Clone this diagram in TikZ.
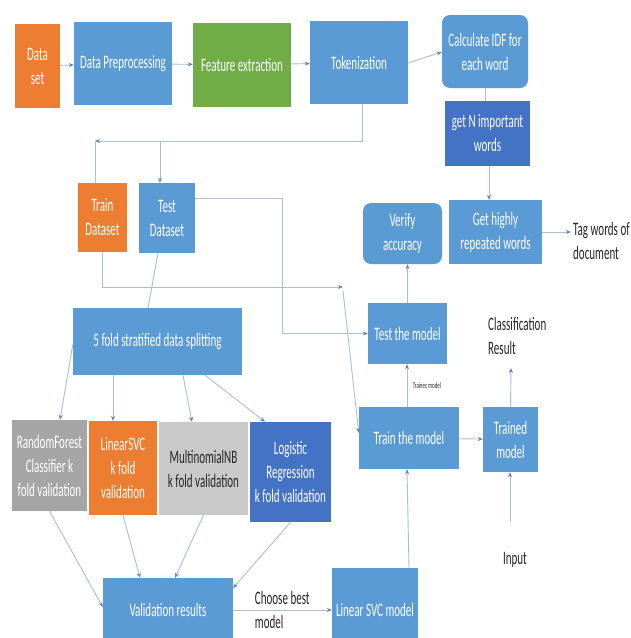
\documentclass[tikz,border=0pt]{standalone}
\usepackage{fontspec}
\setmainfont{Carlito}[FakeStretch=0.58]
\usepackage{color}
\usetikzlibrary{arrows.meta}

\definecolor{boxblue}{HTML}{5B9BD5}
\definecolor{darkblue}{HTML}{4472C4}
\definecolor{boxorange}{HTML}{ED7D31}
\definecolor{boxgreen}{HTML}{70AD47}
\definecolor{boxgray}{HTML}{A5A5A5}
\definecolor{lightgray}{HTML}{C9C9C9}
\definecolor{linegray}{HTML}{AEBED2}
\definecolor{tipblue}{HTML}{5F84B8}
\definecolor{inkblack}{HTML}{262626}

\begin{document}
\begin{tikzpicture}[>=stealth, x=1pt, y=-1pt,
    box/.style={fill=boxblue, text=white, align=center, inner sep=0pt,
        font=\fontsize{19}{24}\selectfont},
    rbox/.style={box, rounded corners=8pt},
    plain/.style={text=inkblack, inner sep=0pt, font=\fontsize{19}{24}\selectfont},
    link/.style={draw=linegray, line width=0.9pt},
    arr/.style={link, -{Stealth[length=5pt, width=4pt, color=tipblue]}}]
    \useasboundingbox (0,0) rectangle (631,638);
    \fill[white] (0,0) rectangle (631,638);

    % top row
    \node[box, fill=boxorange, minimum width=45pt, minimum height=84pt] (dataset) at (37.5,66) {Data\\set};
    \node[box, minimum width=98pt, minimum height=83pt] (prep) at (123,63.5) {Data Preprocessing};
    \node[box, fill=boxgreen, minimum width=98pt, minimum height=84pt] (feat) at (242,65) {Feature extraction};
    \node[box, minimum width=98pt, minimum height=83pt] (token) at (359,62.5) {Tokenization};
    \node[rbox, minimum width=86pt, minimum height=73pt] (idf) at (485,51.5) {Calculate IDF for\\each word};
    \node[box, fill=darkblue, minimum width=85pt, minimum height=65pt] (getn) at (487.5,133.5) {get N important\\words};
    \node[box, minimum width=93pt, minimum height=64pt] (highly) at (495.5,232) {Get highly\\repeated words};
    \node[rbox, minimum width=79pt, minimum height=61pt] (verify) at (402.5,233.5) {Verify\\accuracy};
    \node[plain, anchor=west, align=left] (tag) at (573,241) {Tag words of\\document};

    % data sets
    \node[box, fill=boxorange, minimum width=49pt, minimum height=69pt] (train) at (102.5,217.5) {Train\\Dataset};
    \node[box, minimum width=56pt, minimum height=70pt] (test) at (167,218) {Test\\Dataset};
    \node[box, minimum width=169pt, minimum height=67pt] (fold) at (157.5,341.5) {5 fold stratified data splitting};
    \node[box, minimum width=79pt, minimum height=61pt] (testmodel) at (407.5,333.5) {Test the model};
    \node[plain, anchor=west, align=left] (classres) at (488,336) {Classification\\Result};

    % classifiers
    \node[box, fill=boxgray, minimum width=75pt, minimum height=91pt] (rf) at (49.5,465.5) {RandomForest\\Classifier k\\fold validation};
    \node[box, fill=boxorange, minimum width=68pt, minimum height=94pt] (lsvc) at (123,468) {LinearSVC\\k fold\\validation};
    \node[box, fill=lightgray, text=inkblack, minimum width=89pt, minimum height=93pt] (mnb) at (203.5,468.5) {MultinomialNB\\k fold validation};
    \node[box, fill=darkblue, minimum width=81pt, minimum height=100pt] (logreg) at (290.5,472) {Logistic\\Regression\\k fold validation};

    % bottom
    \node[box, minimum width=130pt, minimum height=64pt] (valid) at (168,610) {Validation results};
    \node[box, minimum width=86pt, minimum height=84pt] (linsvc) at (375,610) {Linear SVC model};
    \node[box, minimum width=100pt, minimum height=62pt] (trainmodel) at (409,438) {Train the model};
    \node[box, minimum width=55pt, minimum height=65pt] (trained) at (510.5,439.5) {Trained\\model};
    \node[plain] (input) at (515,560) {Input};

    \coordinate (split) at (95,141);
    \coordinate (branch) at (160,141);
    \coordinate (testbend) at (282,198);
    \coordinate (trainend) at (343,287);
    \coordinate (inputtop) at (510,522);
    \coordinate (classbot) at (511,368);

    % connectors
    \draw[arr] (dataset) -- (prep);
    \draw[arr] (prep) -- (feat);
    \draw[arr] (feat) -- (token);
    \draw[arr] ([yshift=-0.5pt]token.east) -- ([yshift=-0.5pt]idf.west);
    \draw[link] ([xshift=0pt]idf.south) -- ([xshift=-2.5pt]getn.north);
    \draw[arr] ([xshift=1.5pt]getn.south) -- ([xshift=-6.5pt]highly.north);
    \draw[arr] (highly.east) -- ([xshift=-2pt]tag.west |- highly.east);

    \draw[arr] ([xshift=3pt]token.south) |- (split);
    \draw[link] (split) -- (split |- train.north);
    \draw[arr] (branch) -- (branch |- test.north);
    \draw[arr] ([yshift=20pt]test.east) -- (testbend) |- (testmodel.west);
    \draw[link] ([xshift=-9pt]test.south) -- ([xshift=-9.5pt]fold.north);
    \draw[arr] (train.south) |- (trainend);
    \draw[arr] ([yshift=-4pt]trainend) -- ([yshift=5pt]trainmodel.west);

    \draw[arr] ([yshift=-3pt]fold.west) -- ([xshift=10.5pt]rf.north);
    \draw[arr] ([xshift=-44.5pt]fold.south) -- ([xshift=-10pt]lsvc.north);
    \draw[arr] ([xshift=25.5pt]fold.south) -- ([xshift=-11.5pt]mnb.north);
    \draw[arr] ([xshift=47.5pt]fold.south) -- ([xshift=-25.5pt]logreg.north);

    \draw[arr] (rf.south) -- ([yshift=3pt]valid.west);
    \draw[arr] (lsvc.south) -- ([xshift=-28pt]valid.north);
    \draw[arr] (mnb.south) -- ([xshift=7pt]valid.north);
    \draw[arr] (logreg.south) -- ([yshift=22pt]valid.east);
    \draw[arr] (valid.east) -- node[plain, anchor=west, align=left, xshift=-28pt] {Choose best\\model} (linsvc.west);

    \draw[arr] (trainmodel.south |- linsvc.north) -- ([xshift=-2pt]trainmodel.south);
    \draw[arr] ([xshift=-2pt]trainmodel.north) -- node[right, font=\fontsize{8.5}{9}\selectfont, text=inkblack, xshift=2pt] {Trainec model} ([xshift=-2pt]trainmodel.north |- testmodel.south);
    \draw[arr] (testmodel.north) -- (testmodel.north |- verify.south);
    \draw[arr] (trainmodel) -- (trained);
    \draw[arr] (inputtop) -- (inputtop |- trained.south);
    \draw[arr] (trained.north) -- (classbot);
\end{tikzpicture}
\end{document}
